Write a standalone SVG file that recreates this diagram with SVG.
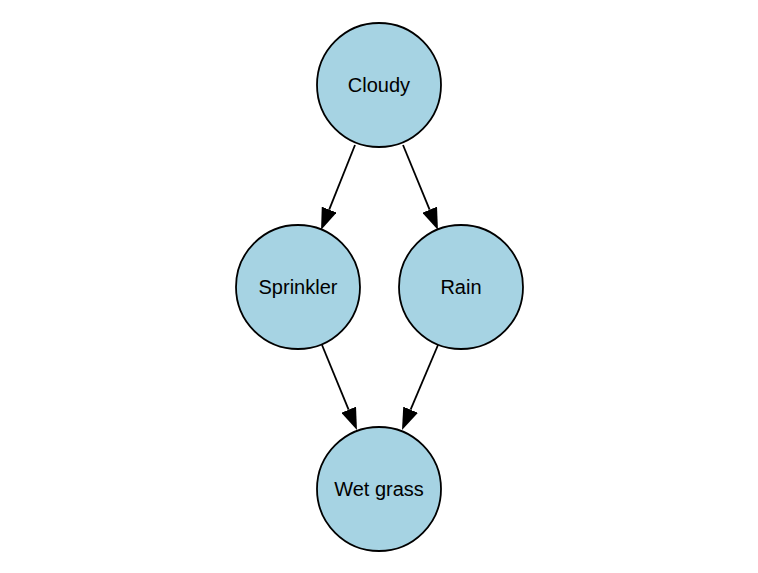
<svg xmlns="http://www.w3.org/2000/svg" width="758" height="573" viewBox="0 0 758 573">
<style>
.node circle{fill:#a6d3e3;stroke:#000;stroke-width:1.8}
.node text{font-family:"Liberation Sans",Arial,sans-serif;font-size:20px;text-anchor:middle;fill:#000}
.edges line{stroke:#000;stroke-width:1.8;marker-end:url(#arr)}
</style>
<defs>
<marker id="arr" markerUnits="userSpaceOnUse" markerWidth="22" markerHeight="16" refX="0" refY="8" orient="auto" viewBox="0 0 22 16">
<path d="M0,0 L22,8 L0,16 z" fill="#000"/>
</marker>
</defs>
<rect width="758" height="573" fill="#fff"/>
<g class="edges">
<line x1="355" y1="145" x2="329.2" y2="209.6"/>
<line x1="403" y1="145" x2="429.6" y2="209.7"/>
<line x1="322" y1="345" x2="348.6" y2="409.7"/>
<line x1="438" y1="345" x2="410.6" y2="409.7"/>
</g>
<g class="node" id="cloudy"><circle cx="379" cy="85" r="62"/><text x="379" y="92">Cloudy</text></g>
<g class="node" id="sprinkler"><circle cx="298" cy="287" r="62"/><text x="298" y="294">Sprinkler</text></g>
<g class="node" id="rain"><circle cx="461" cy="287" r="62"/><text x="461" y="294">Rain</text></g>
<g class="node" id="wetgrass"><circle cx="379" cy="489" r="62"/><text x="379" y="496">Wet grass</text></g>
</svg>
